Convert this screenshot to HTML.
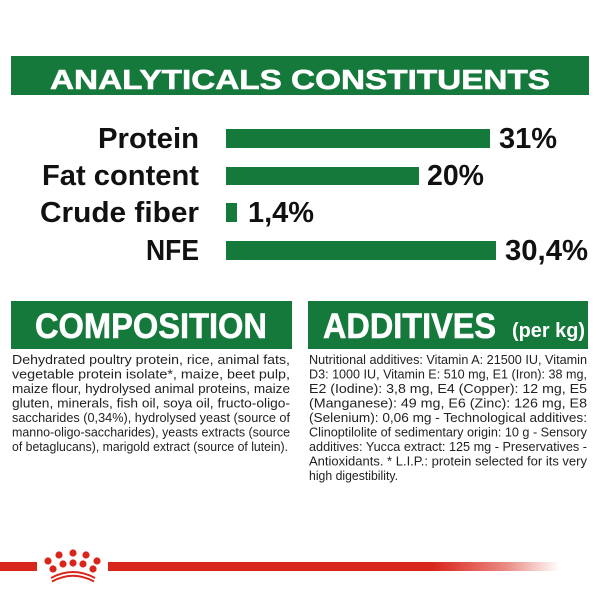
<!DOCTYPE html>
<html><head><meta charset="utf-8"><style>
html,body{margin:0;padding:0;background:#fff;}
svg{display:block;}
</style></head><body>
<svg width="600" height="600" viewBox="0 0 600 600" xmlns="http://www.w3.org/2000/svg">
<defs>
<linearGradient id="fade" x1="0" x2="1" y1="0" y2="0">
<stop offset="0" stop-color="#d9261c"/>
<stop offset="0.72" stop-color="#d9261c"/>
<stop offset="0.88" stop-color="#ea8a84"/>
<stop offset="1" stop-color="#ffffff"/>
</linearGradient>
</defs>
<g font-family="'Liberation Sans Narrow','Liberation Sans',sans-serif" font-weight="bold">
<rect x="11" y="56" width="578" height="39" fill="#14793a"/>
<text x="50" y="89" font-size="28" fill="#fff" textLength="500" lengthAdjust="spacingAndGlyphs" stroke="#fff" stroke-width="0.6">ANALYTICALS CONSTITUENTS</text>

<g fill="#14793a">
<rect x="226" y="129" width="264" height="19"/>
<rect x="226" y="167" width="193" height="18"/>
<rect x="226" y="203" width="11" height="19"/>
<rect x="226" y="241" width="270" height="19"/>
</g>
<g font-size="29" fill="#111">
<text x="98" y="148" textLength="101" lengthAdjust="spacingAndGlyphs">Protein</text>
<text x="42" y="185" textLength="157" lengthAdjust="spacingAndGlyphs">Fat content</text>
<text x="40" y="222" textLength="159" lengthAdjust="spacingAndGlyphs">Crude fiber</text>
<text x="146" y="260" textLength="53" lengthAdjust="spacingAndGlyphs">NFE</text>
<text x="499" y="148" textLength="58" lengthAdjust="spacingAndGlyphs">31%</text>
<text x="427" y="185" textLength="57" lengthAdjust="spacingAndGlyphs">20%</text>
<text x="248" y="222" textLength="66" lengthAdjust="spacingAndGlyphs">1,4%</text>
<text x="505" y="260" textLength="83" lengthAdjust="spacingAndGlyphs">30,4%</text>
</g>

<rect x="11" y="301" width="281" height="48" fill="#14793a"/>
<rect x="308" y="301" width="280" height="48" fill="#14793a"/>
<text x="35" y="338" font-size="35" fill="#fff" textLength="232" lengthAdjust="spacingAndGlyphs" stroke="#fff" stroke-width="0.6">COMPOSITION</text>
<text x="323" y="338" font-size="35" fill="#fff" textLength="173" lengthAdjust="spacingAndGlyphs" stroke="#fff" stroke-width="0.6">ADDITIVES</text>
<text x="512" y="337" font-size="20" fill="#fff" textLength="73" lengthAdjust="spacingAndGlyphs">(per kg)</text>
</g>

<g font-family="'Liberation Sans Narrow','Liberation Sans',sans-serif" font-size="13" fill="#222">
<text x="12" y="364" textLength="278" lengthAdjust="spacingAndGlyphs">Dehydrated poultry protein, rice, animal fats,</text>
<text x="12" y="378.5" textLength="278" lengthAdjust="spacingAndGlyphs">vegetable protein isolate*, maize, beet pulp,</text>
<text x="12" y="393" textLength="278" lengthAdjust="spacingAndGlyphs">maize flour, hydrolysed animal proteins, maize</text>
<text x="12" y="407.5" textLength="278" lengthAdjust="spacingAndGlyphs">gluten, minerals, fish oil, soya oil, fructo-oligo-</text>
<text x="12" y="422" textLength="278" lengthAdjust="spacingAndGlyphs">saccharides (0,34%), hydrolysed yeast (source of</text>
<text x="12" y="436.5" textLength="278" lengthAdjust="spacingAndGlyphs">manno-oligo-saccharides), yeasts extracts (source</text>
<text x="12" y="451" textLength="276" lengthAdjust="spacingAndGlyphs">of betaglucans), marigold extract (source of lutein).</text>

<text x="309" y="364" textLength="278" lengthAdjust="spacingAndGlyphs">Nutritional additives: Vitamin A: 21500 IU, Vitamin</text>
<text x="309" y="378.5" textLength="278" lengthAdjust="spacingAndGlyphs">D3: 1000 IU, Vitamin E: 510 mg, E1 (Iron): 38 mg,</text>
<text x="309" y="393" textLength="278" lengthAdjust="spacingAndGlyphs">E2 (Iodine): 3,8 mg, E4 (Copper): 12 mg, E5</text>
<text x="309" y="407.5" textLength="278" lengthAdjust="spacingAndGlyphs">(Manganese): 49 mg, E6 (Zinc): 126 mg, E8</text>
<text x="309" y="422" textLength="278" lengthAdjust="spacingAndGlyphs">(Selenium): 0,06 mg - Technological additives:</text>
<text x="309" y="436.5" textLength="278" lengthAdjust="spacingAndGlyphs">Clinoptilolite of sedimentary origin: 10 g - Sensory</text>
<text x="309" y="451" textLength="278" lengthAdjust="spacingAndGlyphs">additives: Yucca extract: 125 mg - Preservatives -</text>
<text x="309" y="465.5" textLength="278" lengthAdjust="spacingAndGlyphs">Antioxidants. * L.I.P.: protein selected for its very</text>
<text x="309" y="480" textLength="89" lengthAdjust="spacingAndGlyphs">high digestibility.</text>
</g>

<rect x="0" y="562" width="37" height="9" fill="#d9261c"/>
<rect x="108" y="562" width="452" height="9" fill="url(#fade)"/>
<g fill="#d9261c">
<circle cx="48" cy="561" r="3.6"/><circle cx="59" cy="555" r="3.6"/><circle cx="73" cy="553" r="3.6"/><circle cx="86" cy="555" r="3.6"/><circle cx="97" cy="561" r="3.6"/>
<circle cx="53" cy="569" r="3.6"/><circle cx="63" cy="564" r="3.6"/><circle cx="73" cy="563" r="3.6"/><circle cx="83" cy="564" r="3.6"/><circle cx="93" cy="569" r="3.6"/>
</g>
<g fill="none" stroke="#d9261c" stroke-width="2">
<path d="M51 578 Q73 566 95 578"/>
<path d="M52 581.5 Q73 570 94 581.5"/>
</g>
</svg>
</body></html>
